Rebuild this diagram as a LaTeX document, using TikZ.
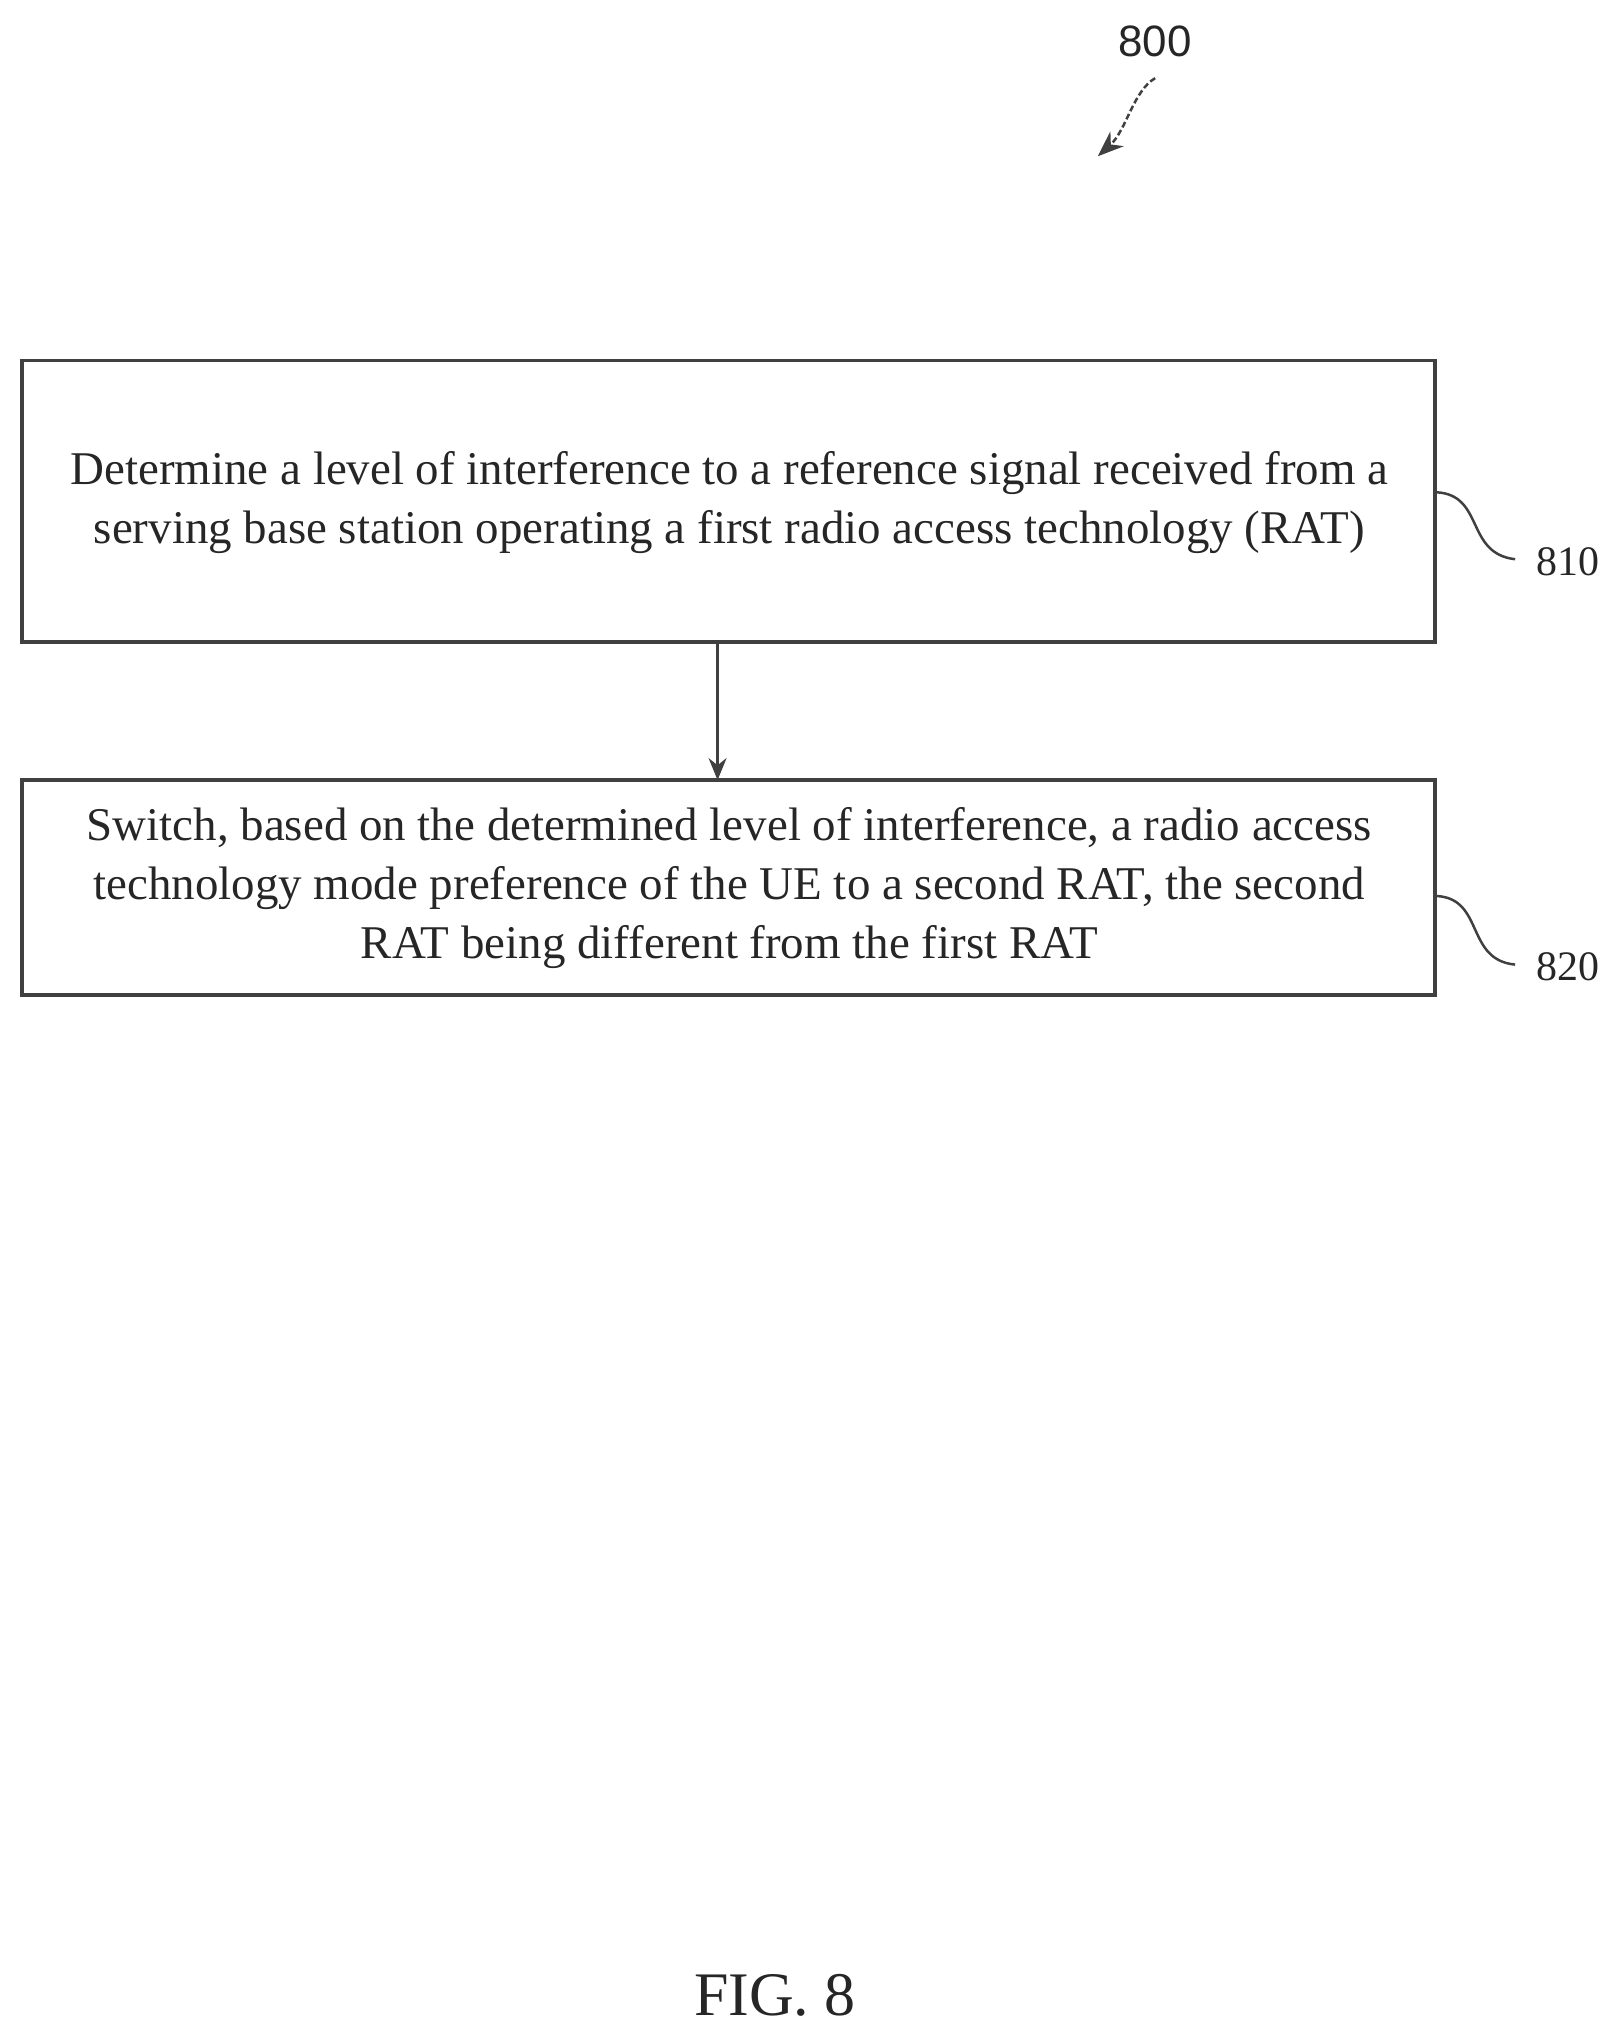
\documentclass[tikz,border=0pt]{standalone}
\usepackage{fontspec}
\setmainfont{Liberation Serif}
\newfontfamily\labfont{Liberation Sans}
\usetikzlibrary{arrows.meta}
\begin{document}
\begin{tikzpicture}[x=1.304pt,y=-1.304pt,
  box/.style={draw=black!75,line width=3.5pt,inner sep=0pt},
  txt/.style={font=\fontsize{47}{59}\selectfont,align=center,text=black!85},
  lab/.style={font=\fontsize{42}{48}\selectfont,text=black!85},
  sq/.style={draw=black!75,line width=2.5pt}]
\useasboundingbox (0,0) rectangle (1243,1568);
\draw[box] (17,277) rectangle (1102,493);
\draw[box] (17,599) rectangle (1102,764);
\node[txt] (t1) at (560,386) {Determine a level of interference to a reference signal received from a\\serving base station operating a first radio access technology (RAT)};
\node[txt] (t2) at (560,682) {Switch, based on the determined level of interference, a radio access\\technology mode preference of the UE to a second RAT, the second\\RAT being different from the first RAT};
\coordinate (a1) at (551,493);
\coordinate (a2) at (551,599);
\draw[sq,-{Stealth[length=22pt,width=18pt]}] (a1) -- (a2);
\node[lab] (l810) at (1204,431) {810};
\node[lab] (l820) at (1204,742) {820};
\coordinate (s1) at (1103,378);
\coordinate (s2) at (1103,688);
\draw[sq,shorten >=18pt] (s1) .. controls (1140,380) and (1125,425) .. (l810.west);
\draw[sq,shorten >=18pt] (s2) .. controls (1140,690) and (1125,737) .. (l820.west);
\node[font=\labfont\fontsize{44}{50}\selectfont,text=black!85] (l800) at (887,32) {800};
\coordinate (e800) at (843,120);
\draw[sq,dash pattern=on 6pt off 3pt,-{Stealth[length=26pt,width=20pt]}] (887,60) .. controls (870,70) and (865,100) .. (e800);
\node[font=\fontsize{62}{70}\selectfont,text=black!85] (fig) at (595,1532) {FIG. 8};
\end{tikzpicture}
\end{document}
